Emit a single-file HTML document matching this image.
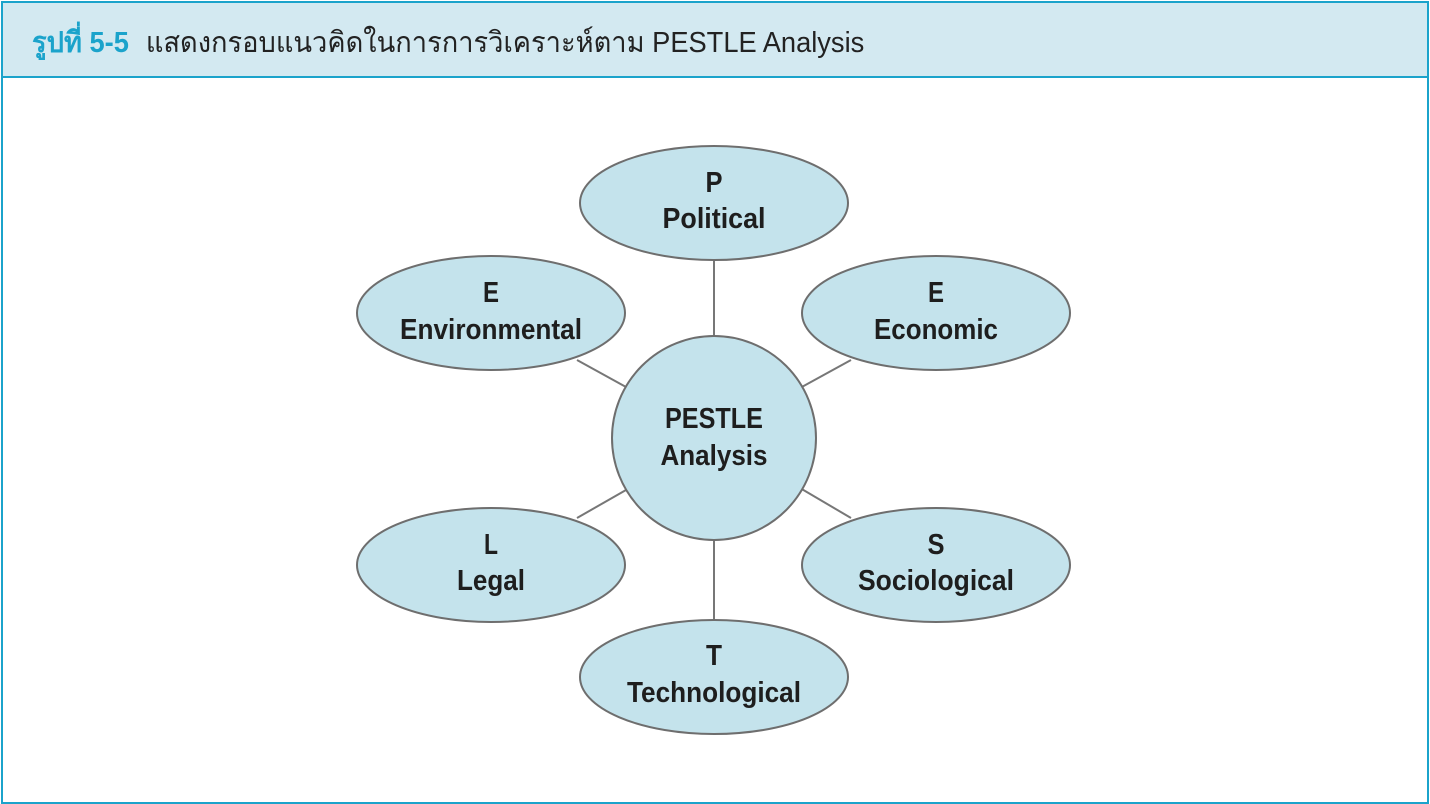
<!DOCTYPE html>
<html><head><meta charset="utf-8"><style>
html,body{margin:0;padding:0;background:#fff;}
body{width:1430px;height:804px;position:relative;overflow:hidden;}
.frame{position:absolute;left:1px;top:1px;width:1424px;height:799px;border:2px solid #1ba3cb;}
.head{position:absolute;left:0;top:0;width:1424px;height:73px;background:#d3e9f1;border-bottom:2px solid #1ba3cb;}
.title{position:absolute;left:29px;top:16px;font-size:29px;font-family:"Liberation Sans","Noto Sans CJK SC",sans-serif;color:#222;white-space:nowrap;transform:scaleX(0.94);transform-origin:0 0;}
.title b{color:#1ba3cb;margin-right:18px;}
svg{position:absolute;left:0;top:0;}
text{font-family:"Liberation Sans",sans-serif;font-weight:bold;font-size:29px;fill:#1e1e1e;text-anchor:middle;}
</style></head><body>
<div class="frame"><div class="head"><div class="title"><b>รูปที่ 5-5</b>แสดงกรอบแนวคิดในการการวิเคราะห์ตาม PESTLE Analysis</div></div></div>
<svg width="1430" height="804">
<g stroke="#777" stroke-width="2">
<line x1="714" y1="260" x2="714" y2="340"/>
<line x1="714" y1="536" x2="714" y2="620"/>
<line x1="577" y1="360" x2="626" y2="387"/>
<line x1="851" y1="360" x2="800" y2="388"/>
<line x1="577" y1="518" x2="626" y2="490"/>
<line x1="851" y1="518" x2="800" y2="488"/>
</g>
<g fill="#c4e3ec" stroke="#6e6e6e" stroke-width="2">
<ellipse cx="714" cy="203" rx="134" ry="57"/>
<ellipse cx="491" cy="313" rx="134" ry="57"/>
<ellipse cx="936" cy="313" rx="134" ry="57"/>
<ellipse cx="491" cy="565" rx="134" ry="57"/>
<ellipse cx="936" cy="565" rx="134" ry="57"/>
<ellipse cx="714" cy="677" rx="134" ry="57"/>
<circle cx="714" cy="438" r="102"/>
</g>
<g lengthAdjust="spacingAndGlyphs">
<text x="714" y="192" textLength="17" lengthAdjust="spacingAndGlyphs">P</text><text x="714" y="228" textLength="103" lengthAdjust="spacingAndGlyphs">Political</text>
<text x="491" y="302" textLength="16" lengthAdjust="spacingAndGlyphs">E</text><text x="491" y="339" textLength="182" lengthAdjust="spacingAndGlyphs">Environmental</text>
<text x="936" y="302" textLength="16" lengthAdjust="spacingAndGlyphs">E</text><text x="936" y="339" textLength="124" lengthAdjust="spacingAndGlyphs">Economic</text>
<text x="491" y="554" textLength="14" lengthAdjust="spacingAndGlyphs">L</text><text x="491" y="590" textLength="68" lengthAdjust="spacingAndGlyphs">Legal</text>
<text x="936" y="554" textLength="17" lengthAdjust="spacingAndGlyphs">S</text><text x="936" y="590" textLength="156" lengthAdjust="spacingAndGlyphs">Sociological</text>
<text x="714" y="665" textLength="16" lengthAdjust="spacingAndGlyphs">T</text><text x="714" y="702" textLength="174" lengthAdjust="spacingAndGlyphs">Technological</text>
<text x="714" y="428" textLength="98" lengthAdjust="spacingAndGlyphs">PESTLE</text><text x="714" y="465" textLength="107" lengthAdjust="spacingAndGlyphs">Analysis</text>
</g>
</svg>
</body></html>
